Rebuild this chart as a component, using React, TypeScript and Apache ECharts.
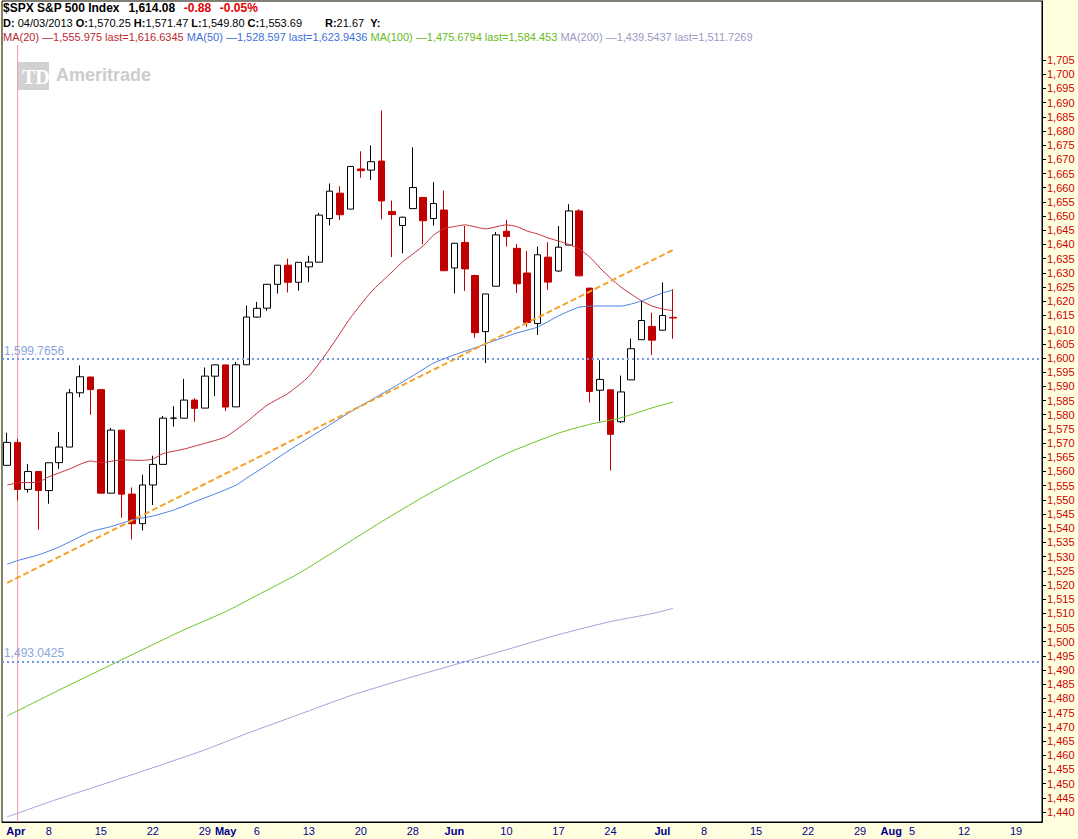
import React, { useEffect, useRef } from 'react';
import * as echarts from 'echarts';

const FONT = '"Liberation Sans", Arial, sans-serif';

// ---- daily candles (S&P 500, Apr 2 – Jul 2 2013) ----
const dates = [
  '2013-04-02','2013-04-03','2013-04-04','2013-04-05','2013-04-08','2013-04-09','2013-04-10','2013-04-11','2013-04-12',
  '2013-04-15','2013-04-16','2013-04-17','2013-04-18','2013-04-19','2013-04-22','2013-04-23','2013-04-24','2013-04-25',
  '2013-04-26','2013-04-29','2013-04-30',
  '2013-05-01','2013-05-02','2013-05-03','2013-05-06','2013-05-07','2013-05-08','2013-05-09','2013-05-10','2013-05-13',
  '2013-05-14','2013-05-15','2013-05-16','2013-05-17','2013-05-20','2013-05-21','2013-05-22','2013-05-23','2013-05-24',
  '2013-05-28','2013-05-29','2013-05-30','2013-05-31',
  '2013-06-03','2013-06-04','2013-06-05','2013-06-06','2013-06-07','2013-06-10','2013-06-11','2013-06-12','2013-06-13',
  '2013-06-14','2013-06-17','2013-06-18','2013-06-19','2013-06-20','2013-06-21','2013-06-24','2013-06-25','2013-06-26',
  '2013-06-27','2013-06-28',
  '2013-07-01','2013-07-02'
];
const opens = [
  1562.17,1570.25,1553.69,1559.98,1553.26,1563.11,1568.61,1587.73,1593.30,1588.84,1552.36,1574.57,1552.03,1541.61,1555.25,1562.50,1578.78,1578.78,1585.16,1582.34,1593.58,
  1597.55,1582.77,1597.60,1614.40,1617.55,1625.95,1632.69,1626.69,1632.10,1633.75,1649.13,1658.07,1652.45,1666.60,1666.20,1669.39,1651.62,1646.67,1652.63,1656.57,1649.14,1652.13,
  1631.71,1640.73,1629.05,1609.29,1625.27,1644.67,1638.64,1629.94,1612.15,1635.52,1630.64,1639.77,1651.83,1624.62,1588.62,1588.77,1577.52,1592.27,1606.44,1611.12,
  1609.78,1614.29
];
const highs = [
  1573.66,1571.47,1562.60,1559.98,1563.07,1573.89,1589.07,1597.35,1593.30,1588.84,1575.35,1574.57,1554.38,1558.82,1565.55,1579.58,1583.00,1592.64,1585.78,1596.65,1597.57,
  1597.55,1598.60,1618.46,1619.77,1626.03,1632.78,1635.01,1633.70,1636.00,1651.10,1661.49,1660.51,1667.47,1672.84,1674.93,1687.18,1655.50,1649.78,1674.21,1656.57,1661.91,1658.99,
  1640.42,1646.53,1629.31,1622.56,1644.40,1648.69,1640.13,1637.71,1639.25,1640.80,1646.50,1654.19,1652.45,1624.62,1599.19,1588.77,1593.79,1606.83,1620.07,1615.94,
  1626.61,1624.26
];
const lows = [
  1562.17,1549.80,1552.52,1539.50,1548.63,1560.92,1568.61,1586.17,1579.97,1552.28,1552.36,1543.69,1536.03,1539.23,1548.19,1562.50,1575.80,1578.78,1577.56,1582.34,1586.50,
  1581.28,1582.77,1597.60,1614.21,1616.64,1622.70,1623.09,1623.71,1626.74,1633.75,1646.68,1648.60,1652.45,1663.52,1662.67,1648.86,1635.53,1636.88,1652.63,1640.05,1646.68,1630.74,
  1622.72,1623.62,1607.09,1598.23,1625.27,1639.26,1622.92,1610.92,1608.07,1623.96,1630.34,1639.77,1628.91,1584.32,1577.70,1560.33,1577.09,1592.27,1606.44,1601.06,
  1609.78,1606.77
];
const closes = [
  1570.25,1553.69,1559.98,1553.28,1563.07,1568.61,1587.73,1593.37,1588.85,1552.36,1574.57,1552.01,1541.61,1555.25,1562.50,1578.78,1578.79,1585.16,1582.24,1593.61,1597.57,
  1582.70,1597.59,1614.42,1617.50,1625.96,1632.69,1626.67,1633.70,1633.77,1650.34,1658.78,1650.47,1667.47,1666.00,1669.16,1655.35,1650.51,1649.60,1660.06,1648.36,1654.41,1630.74,
  1640.42,1631.38,1608.90,1622.56,1643.38,1642.81,1626.13,1612.52,1636.36,1626.73,1639.04,1651.81,1628.93,1588.19,1592.43,1573.09,1588.03,1603.26,1613.20,1606.28,
  1614.96,1614.08
];

// ---- moving averages at sample dates ----
const ma20Points: [string, number][] = [
  ['2013-04-02',1555.2],['2013-04-03',1555.98],['2013-04-05',1556.3],['2013-04-08',1558.1],['2013-04-10',1560.9],
  ['2013-04-12',1563.7],['2013-04-15',1563.1],['2013-04-17',1564.1],['2013-04-19',1563.9],['2013-04-22',1564.4],
  ['2013-04-23',1566.3],['2013-04-25',1567.9],['2013-04-29',1569.9],['2013-05-01',1572.2],['2013-05-03',1577.4],
  ['2013-05-07',1583.4],['2013-05-09',1587.5],['2013-05-13',1593.5],['2013-05-15',1603.2],['2013-05-17',1614.1],
  ['2013-05-21',1623.3],['2013-05-23',1630.3],['2013-05-24',1633.8],['2013-05-28',1636.6],['2013-05-29',1639.5],
  ['2013-05-30',1643.3],['2013-05-31',1645.6],['2013-06-03',1646.3],['2013-06-04',1646.9],['2013-06-06',1645.5],
  ['2013-06-10',1646.9],['2013-06-11',1646.3],['2013-06-12',1644.7],['2013-06-13',1643.7],['2013-06-14',1642.3],
  ['2013-06-17',1641.2],['2013-06-18',1640.0],['2013-06-19',1638.4],['2013-06-20',1635.6],['2013-06-21',1631.7],
  ['2013-06-24',1628.2],['2013-06-25',1625.0],['2013-06-26',1622.5],['2013-06-27',1620.1],['2013-06-28',1618.3],
  ['2013-07-01',1617.3],['2013-07-02',1616.63]
];
const ma50Points: [string, number][] = [
  ['2013-04-02',1527.3],['2013-04-03',1528.6],['2013-04-05',1530.6],['2013-04-09',1533.4],['2013-04-12',1538.7],
  ['2013-04-16',1540.6],['2013-04-18',1542.9],['2013-04-22',1544.3],['2013-04-24',1546.4],['2013-04-26',1549.3],
  ['2013-04-30',1552.1],['2013-05-02',1555.2],['2013-05-03',1557.6],['2013-05-07',1562.3],['2013-05-09',1567.2],
  ['2013-05-13',1571.8],['2013-05-15',1576.4],['2013-05-17',1581.0],['2013-05-21',1585.2],['2013-05-23',1589.4],
  ['2013-05-28',1593.7],['2013-05-30',1598.2],['2013-06-03',1601.1],['2013-06-05',1603.6],['2013-06-07',1606.3],
  ['2013-06-11',1608.8],['2013-06-13',1610.9],['2013-06-17',1614.8],['2013-06-19',1617.9],['2013-06-21',1618.3],
  ['2013-06-25',1618.3],['2013-06-27',1620.1],['2013-07-01',1622.9],['2013-07-02',1623.94]
];
const ma100Points: [string, number][] = [
  ['2013-04-02',1473.9],['2013-04-03',1475.68],['2013-04-09',1483.0],['2013-04-15',1490.1],['2013-04-19',1497.2],
  ['2013-04-25',1504.2],['2013-05-01',1510.6],['2013-05-06',1516.3],['2013-05-10',1524.0],['2013-05-16',1533.1],
  ['2013-05-22',1542.3],['2013-05-29',1551.0],['2013-06-03',1557.0],['2013-06-10',1566.3],['2013-06-17',1573.5],
  ['2013-06-20',1576.6],['2013-06-25',1578.9],['2013-06-28',1582.4],['2013-07-02',1584.45]
];
const ma200Points: [string, number][] = [
  ['2013-04-02',1438.3],['2013-04-03',1439.54],['2013-04-08',1443.5],['2013-04-15',1449.5],['2013-04-22',1455.6],
  ['2013-04-29',1461.9],['2013-05-03',1467.6],['2013-05-10',1474.3],['2013-05-17',1481.0],['2013-05-24',1486.6],
  ['2013-06-03',1491.9],['2013-06-10',1497.2],['2013-06-17',1502.5],['2013-06-24',1507.1],['2013-06-28',1509.9],
  ['2013-07-02',1511.73]
];

// ---- drawn studies ----
const trendLine: [string, number][] = [['2013-04-02', 1520.75], ['2013-07-02', 1638.05]];
const levelLines = [1599.7656, 1493.0425];
const levelLabels = ['1,599.7656', '1,493.0425'];
const cursorDate = '2013-04-03';
const cursorTop = 1710.3;

// ---- axes ----
const axisStart = [2013, 3, 2];
const axisEnd = [2013, 7, 21];
const holidays = ['2013-05-27', '2013-07-04'];
const xTickLabels: [string, string, boolean][] = [
  ['2013-04-02','Apr',true],['2013-04-08','8',false],['2013-04-15','15',false],['2013-04-22','22',false],
  ['2013-04-29','29',false],['2013-05-01','May',true],['2013-05-06','6',false],['2013-05-13','13',false],
  ['2013-05-20','20',false],['2013-05-28','28',false],['2013-06-03','Jun',true],['2013-06-10','10',false],
  ['2013-06-17','17',false],['2013-06-24','24',false],['2013-07-01','Jul',true],['2013-07-08','8',false],
  ['2013-07-15','15',false],['2013-07-22','22',false],['2013-07-29','29',false],['2013-08-01','Aug',true],
  ['2013-08-05','5',false],['2013-08-12','12',false],['2013-08-19','19',false]
];
const yTickValues = Array.from({ length: 54 }, (_, i) => 1440 + i * 5);
const Y_MIN = 1436.48;
const Y_MAX = 1725.79;

// ---- header texts ----
const titleText = '$SPX S&P 500 Index';
const lastText = '1,614.08';
const changeText = '-0.88';
const changePctText = '-0.05%';
const ohlcPieces: [string, string][] = [
  ['D:', '04/03/2013'], ['O:', '1,570.25'], ['H:', '1,571.47'], ['L:', '1,549.80'], ['C:', '1,553.69']
];
const maLegend: [string, string][] = [
  ['MA(20) —1,555.975 last=1,616.6345', '#bb2a34'],
  ['MA(50) —1,528.597 last=1,623.9436', '#3d6fd9'],
  ['MA(100) —1,475.6794 last=1,584.453', '#66bb1c'],
  ['MA(200) —1,439.5437 last=1,511.7269', '#9a9ac4']
];

const MA_COLORS = ['#c4323c', '#4a7ee6', '#6cc522', '#a3a3d6'];
const RED = '#c00000';
const NAVY = '#00008b';

function buildCategories(): string[] {
  const out: string[] = [];
  const d = new Date(Date.UTC(axisStart[0], axisStart[1], axisStart[2]));
  const end = Date.UTC(axisEnd[0], axisEnd[1], axisEnd[2]);
  while (d.getTime() <= end) {
    const wd = d.getUTCDay();
    const s = d.toISOString().slice(0, 10);
    if (wd !== 0 && wd !== 6 && holidays.indexOf(s) < 0) out.push(s);
    d.setUTCDate(d.getUTCDate() + 1);
  }
  return out;
}

function fmtComma(v: number): string {
  return String(v).replace(/\B(?=(\d{3})+(?!\d))/g, ',');
}

let measureCtx: CanvasRenderingContext2D | null = null;
function measure(text: string, font: string): number {
  if (!measureCtx) measureCtx = document.createElement('canvas').getContext('2d');
  if (!measureCtx) return text.length * 6;
  measureCtx.font = font;
  return measureCtx.measureText(text).width;
}

function textEl(text: string, x: number, y: number, font: string, fill: string, z = 50) {
  return {
    type: 'text', x, y, z, silent: true,
    style: { text, font, fill, textVerticalAlign: 'middle' }
  };
}

function buildHeader(): any[] {
  const els: any[] = [];
  const f1 = `bold 12px ${FONT}`;
  const fN = `11px ${FONT}`;
  const fB = `bold 11px ${FONT}`;
  let x = 3;
  const y1 = 8;
  const sp1 = measure(' ', f1);
  [[titleText, '#000'], [lastText, '#000'], [changeText, '#e00000'], [changePctText, '#e00000']].forEach(([t, c], i) => {
    if (i > 0) x += sp1 * 2.6;
    els.push(textEl(t, x, y1, f1, c));
    x += measure(t, f1);
  });
  const y2 = 23;
  const spN = measure(' ', fN);
  x = 3;
  ohlcPieces.forEach(([lab, val], i) => {
    if (i > 0) x += spN;
    els.push(textEl(lab, x, y2, fB, '#000'));
    x += measure(lab, fB);
    if (i === 0) x += spN;
    els.push(textEl(val, x, y2, fN, '#000'));
    x += measure(val, fN);
  });
  x = 325;
  els.push(textEl('R:', x, y2, fB, '#000'));
  x += measure('R:', fB);
  els.push(textEl('21.67', x, y2, fN, '#000'));
  x += measure('21.67', fN) + spN * 2;
  els.push(textEl('Y:', x, y2, fB, '#000'));
  const y3 = 37;
  x = 3;
  maLegend.forEach(([t, c], i) => {
    if (i > 0) x += spN;
    els.push(textEl(t, x, y3, fN, c));
    x += measure(t, fN);
  });
  return els;
}

function buildOption() {
  const categories = buildCategories();
  // candle data in category order: [open, close, low, high]
  const candleData = categories.map((c) => {
    const i = dates.indexOf(c);
    return i < 0 ? '-' : [opens[i], closes[i], lows[i], highs[i]];
  });
  const labelMap: Record<string, { t: string; m: boolean }> = {};
  xTickLabels.forEach(([d, t, m]) => { labelMap[d] = { t, m }; });

  const levelStyle = { color: '#7098e6', width: 2, type: [2, 3] };
  const levelLabel = (txt: string) => ({
    show: true, position: 'insideStartTop', formatter: txt, color: '#8aa6dc',
    fontSize: 12, fontFamily: FONT, distance: 2, padding: 0
  });

  return {
    animation: false,
    backgroundColor: '#ffffe0',
    grid: {
      left: 2, right: 36, top: 1, bottom: 17, show: true,
      backgroundColor: '#ffffff', borderColor: '#000000', borderWidth: 1
    },
    xAxis: {
      type: 'category', data: categories, boundaryGap: true,
      axisLine: { show: true, lineStyle: { color: '#000', width: 1 } },
      axisTick: { show: false }, splitLine: { show: false },
      axisLabel: {
        interval: 0, hideOverlap: false, margin: 3, color: NAVY, fontSize: 11, fontFamily: FONT,
        formatter: (v: string) => {
          const e = labelMap[v];
          if (!e) return '';
          if (v === categories[0]) return `{first|${e.t}}`;
          return e.m ? `{m|${e.t}}` : e.t;
        },
        rich: {
          m: { fontWeight: 'bold', fontSize: 11, fontFamily: FONT, color: NAVY },
          first: { fontWeight: 'bold', fontSize: 11, fontFamily: FONT, color: NAVY, padding: [0, 0, 0, 17] }
        }
      }
    },
    yAxis: {
      type: 'value', position: 'right', min: Y_MIN, max: Y_MAX,
      axisLine: { show: true, lineStyle: { color: '#000', width: 1 } },
      axisTick: { show: true, length: 4, lineStyle: { color: '#000' }, customValues: yTickValues },
      axisLabel: {
        customValues: yTickValues, color: '#cc0000', fontSize: 11, fontFamily: FONT, margin: 5,
        formatter: (v: number) => fmtComma(Math.round(v))
      },
      splitLine: { show: false }
    },
    series: [
      {
        type: 'line', data: [[cursorDate, cursorTop], [cursorDate, Y_MIN]], symbol: 'none', showSymbol: false,
        silent: true, z: 1, lineStyle: { color: '#f29aa2', width: 1 }
      },
      {
        type: 'candlestick', name: 'SPX', data: candleData, barWidth: 7, silent: true, z: 2,
        itemStyle: { color: '#ffffff', color0: RED, borderColor: '#000000', borderColor0: RED, borderWidth: 1 },
        markLine: {
          silent: true, symbol: ['none', 'none'], animation: false,
          data: [
            { yAxis: levelLines[0], lineStyle: levelStyle, label: levelLabel(levelLabels[0]) },
            { yAxis: levelLines[1], lineStyle: levelStyle, label: levelLabel(levelLabels[1]) }
          ]
        }
      },
      ...[ma20Points, ma50Points, ma100Points, ma200Points].map((pts, i) => ({
        type: 'line', data: pts, symbol: 'none', showSymbol: false, silent: true, z: 3,
        smooth: 0.2,
        lineStyle: { color: MA_COLORS[i], width: 1 }
      })),
      {
        type: 'line', data: trendLine, symbol: 'none', showSymbol: false, silent: true, z: 4,
        lineStyle: { color: '#f5a22a', width: 2, type: [6, 3] }
      }
    ],
    graphic: [
      { type: 'rect', z: 1, silent: true, shape: { x: 18, y: 62, width: 31, height: 28 }, style: { fill: '#d2d2d2' } },
      textEl('TD', 22, 77, `bold 20px "Liberation Serif", serif`, '#ffffff', 1),
      textEl('Ameritrade', 56, 75, `bold 18px ${FONT}`, '#cccccc', 1),
      ...buildHeader()
    ]
  };
}

export default function App() {
  const ref = useRef<HTMLDivElement>(null);
  useEffect(() => {
    if (!ref.current) return;
    const chart = echarts.init(ref.current, undefined, { renderer: 'svg' });
    chart.setOption(buildOption() as any);
    return () => chart.dispose();
  }, []);
  return <div ref={ref} style={{ position: 'fixed', left: 0, top: 0, width: 1078, height: 839 }} />;
}
